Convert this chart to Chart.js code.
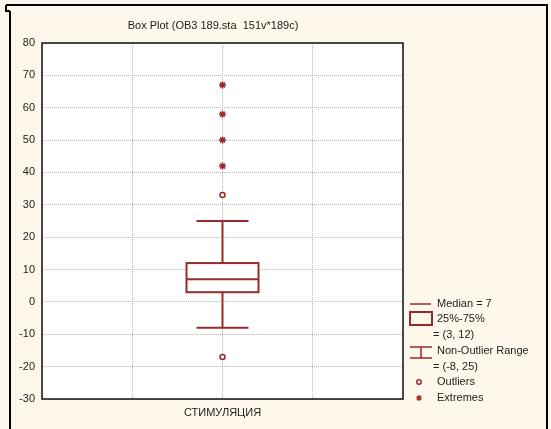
<!DOCTYPE html>
<html lang="ru">
<head>
  <meta charset="UTF-8">
  <title>Box Plot</title>
  <script src="https://cdn.jsdelivr.net/npm/chart.js"></script>
  <style>
    body {
      margin: 0;
      background: #fef8ec;
    }
    #wrap {
      width: 551px;
      height: 429px;
    }
  </style>
</head>
<body>
  <div id="wrap"><canvas id="chart" width="551" height="429"></canvas></div>

  <script>
    // данные
    const categories = ['СТИМУЛЯЦИЯ'];
    const medians = [7];
    const q1 = [3];
    const q3 = [12];
    const whiskerLow = [-8];
    const whiskerHigh = [25];
    const outliers = [[33, -17]];
    const extremes = [[67, 58, 50, 42]];
    const yMin = -30, yMax = 80, yStep = 10;
    const titleText = 'Box Plot (OB3 189.sta  151v*189c)';

    const xMax = 4;
    const catPos = categories.map((c, i) => (i + 1) * xMax / (categories.length + 1));

    const red = '#9a2a2a';
    const font = '11px "Liberation Sans", Arial, sans-serif';

    const outlierPts = [];
    const extremePts = [];
    categories.forEach((c, i) => {
      outliers[i].forEach(v => outlierPts.push({ x: catPos[i], y: v }));
      extremes[i].forEach(v => extremePts.push({ x: catPos[i], y: v }));
    });

    const framePlugin = {
      id: 'frame',
      beforeDraw(chart) {
        const ctx = chart.ctx, a = chart.chartArea;
        ctx.save();
        ctx.fillStyle = '#fef8ec';
        ctx.fillRect(0, 0, chart.width, chart.height);
        ctx.strokeStyle = '#000';
        ctx.lineWidth = 2;
        ctx.beginPath();
        ctx.moveTo(6, 5); ctx.lineTo(548, 5);
        ctx.moveTo(547, 5); ctx.lineTo(547, 429);
        ctx.moveTo(10, 11); ctx.lineTo(10, 429);
        ctx.moveTo(6, 5); ctx.lineTo(6, 11); ctx.lineTo(10, 11);
        ctx.stroke();
        ctx.fillStyle = '#fff';
        ctx.fillRect(a.left, a.top, a.right - a.left, a.bottom - a.top);
        ctx.restore();
      },
      afterDraw(chart) {
        const ctx = chart.ctx, a = chart.chartArea;
        ctx.save();
        ctx.strokeStyle = '#111';
        ctx.lineWidth = 1.5;
        ctx.strokeRect(a.left, a.top, a.right - a.left, a.bottom - a.top);

        // заголовок
        ctx.fillStyle = '#222';
        ctx.font = font;
        ctx.textAlign = 'center';
        ctx.textBaseline = 'middle';
        ctx.fillText(titleText, 213, 26);

        // легенда
        const lx = 410, tx = 437;
        ctx.strokeStyle = red;
        ctx.lineWidth = 1.5;
        ctx.beginPath();
        ctx.moveTo(lx, 304); ctx.lineTo(lx + 21, 304);
        ctx.stroke();
        ctx.lineWidth = 2;
        ctx.strokeRect(lx, 312, 22, 13);
        ctx.lineWidth = 1.5;
        ctx.beginPath();
        ctx.moveTo(lx, 347); ctx.lineTo(lx + 22, 347);
        ctx.moveTo(lx + 11, 347); ctx.lineTo(lx + 11, 358);
        ctx.moveTo(lx, 358); ctx.lineTo(lx + 22, 358);
        ctx.stroke();
        ctx.fillStyle = '#fff';
        ctx.beginPath();
        ctx.arc(419, 382, 2.2, 0, Math.PI * 2);
        ctx.fill(); ctx.stroke();
        ctx.lineWidth = 1.2;
        ctx.beginPath();
        for (let k = 0; k < 4; k++) {
          const ang = k * Math.PI / 4;
          ctx.moveTo(419 - 3 * Math.cos(ang), 398 - 3 * Math.sin(ang));
          ctx.lineTo(419 + 3 * Math.cos(ang), 398 + 3 * Math.sin(ang));
        }
        ctx.stroke();

        ctx.fillStyle = '#222';
        ctx.textAlign = 'left';
        ctx.fillText('Median = ' + medians[0], tx, 304);
        ctx.fillText('25%-75%', tx, 319);
        ctx.fillText('= (' + q1[0] + ', ' + q3[0] + ')', 433, 335);
        ctx.fillText('Non-Outlier Range', tx, 351);
        ctx.fillText('= (' + whiskerLow[0] + ', ' + whiskerHigh[0] + ')', 433, 367);
        ctx.fillText('Outliers', tx, 382);
        ctx.fillText('Extremes', tx, 398);
        ctx.restore();
      }
    };

    // ящик с усами через шкалы графика
    const boxPlugin = {
      id: 'boxes',
      afterDatasetsDraw(chart) {
        const ctx = chart.ctx;
        const xs = chart.scales.x, ys = chart.scales.y;
        const boxW = 72, capW = 52;
        ctx.save();
        ctx.strokeStyle = red;
        ctx.lineWidth = 2;
        categories.forEach((c, i) => {
          const cx = xs.getPixelForValue(catPos[i]);
          const yq1 = ys.getPixelForValue(q1[i]);
          const yq3 = ys.getPixelForValue(q3[i]);
          const ymed = ys.getPixelForValue(medians[i]);
          const ylo = ys.getPixelForValue(whiskerLow[i]);
          const yhi = ys.getPixelForValue(whiskerHigh[i]);
          ctx.beginPath();
          ctx.moveTo(cx, yq3); ctx.lineTo(cx, yhi);
          ctx.moveTo(cx - capW / 2, yhi); ctx.lineTo(cx + capW / 2, yhi);
          ctx.moveTo(cx, yq1); ctx.lineTo(cx, ylo);
          ctx.moveTo(cx - capW / 2, ylo); ctx.lineTo(cx + capW / 2, ylo);
          ctx.stroke();
          ctx.fillStyle = '#fff';
          ctx.fillRect(cx - boxW / 2, yq3, boxW, yq1 - yq3);
          ctx.strokeRect(cx - boxW / 2, yq3, boxW, yq1 - yq3);
          ctx.beginPath();
          ctx.moveTo(cx - boxW / 2, ymed); ctx.lineTo(cx + boxW / 2, ymed);
          ctx.stroke();
        });
        ctx.restore();
      }
    };

    const chart = new Chart(document.getElementById('chart'), {
      type: 'scatter',
      data: {
        datasets: [
          {
            label: 'Outliers',
            data: outlierPts,
            pointStyle: 'circle',
            pointRadius: 2.5,
            backgroundColor: '#fff',
            borderColor: red,
            borderWidth: 1.5
          },
          {
            label: 'Extremes',
            data: extremePts,
            pointStyle: 'star',
            pointRadius: 3.5,
            backgroundColor: red,
            borderColor: red,
            borderWidth: 1.5
          }
        ]
      },
      options: {
        responsive: false,
        animation: false,
        layout: { padding: { left: 0, right: 148, top: 43, bottom: 0 } },
        plugins: {
          legend: { display: false },
          tooltip: { enabled: false }
        },
        scales: {
          x: {
            type: 'linear',
            min: 0,
            max: xMax,
            afterFit(axis) { axis.height = 30; },
            border: { display: false, dash: [1, 1] },
            grid: { color: '#b8b8b8', drawTicks: false },
            ticks: {
              stepSize: 1,
              autoSkip: false,
              maxRotation: 0,
              padding: 7,
              color: '#222',
              font: { family: '"Liberation Sans", Arial, sans-serif', size: 11 },
              callback: v => {
                const i = catPos.indexOf(v);
                return i >= 0 ? categories[i] : '';
              }
            }
          },
          y: {
            min: yMin,
            max: yMax,
            afterFit(axis) { axis.width = 42; },
            border: { display: false, dash: [1, 1] },
            grid: { color: '#b8b8b8', drawTicks: false },
            ticks: {
              stepSize: yStep,
              padding: 7,
              color: '#222',
              font: { family: '"Liberation Sans", Arial, sans-serif', size: 11 }
            }
          }
        }
      },
      plugins: [framePlugin, boxPlugin]
    });
  </script>
</body>
</html>
